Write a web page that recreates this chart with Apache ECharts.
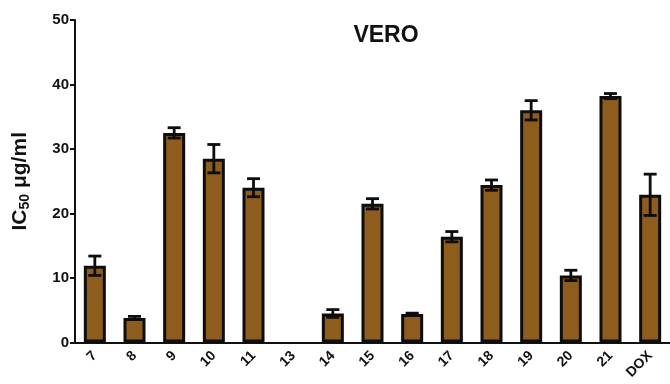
<!DOCTYPE html>
<html>
<head>
<meta charset="utf-8">
<script src="https://cdn.jsdelivr.net/npm/echarts@6/dist/echarts.min.js"></script>
<style>
  html, body { margin: 0; padding: 0; background: #fff; }
  #chart { width: 670px; height: 384px; }
</style>
</head>
<body>
<div id="chart"></div>
<script>
// IC50 values (µg/ml) on VERO cells, mean and error per compound
const compounds = ['7', '8', '9', '10', '11', '13', '14', '15', '16', '17', '18', '19', '20', '21', 'DOX'];
const ic50 = [11.9, 3.8, 32.5, 28.5, 24.0, 0, 4.5, 21.5, 4.4, 16.4, 24.4, 36.0, 10.4, 38.2, 22.9];
const errors = [1.5, 0.25, 0.8, 2.2, 1.4, 0, 0.6, 0.8, 0.15, 0.8, 0.8, 1.5, 0.8, 0.4, 3.2];
const yTicks = [0, 10, 20, 30, 40, 50];

const chart = echarts.init(document.getElementById('chart'));
const fontFamily = '"Liberation Sans", Arial, sans-serif';

// zero-height bars get no outline so nothing is drawn on the baseline
const barData = ic50.map(v => ({
  value: v,
  itemStyle: v === 0 ? { borderWidth: 0 } : undefined
}));

chart.setOption({
  animation: false,
  title: {
    text: 'VERO',
    left: 381,
    top: 19,
    textAlign: 'center',
    textStyle: { fontFamily, fontSize: 23, fontWeight: 'bold', color: '#111' }
  },
  grid: { left: 75, right: 0, top: 20, bottom: 41.5 },
  xAxis: {
    type: 'category',
    data: compounds,
    axisLine: { lineStyle: { color: '#111', width: 2 } },
    axisTick: { alignWithLabel: true, length: 5, lineStyle: { color: '#111', width: 2 } },
    axisLabel: {
      rotate: 45,
      interval: 0,
      margin: 11,
      fontFamily, fontSize: 14, fontWeight: 'bold', color: '#111'
    }
  },
  yAxis: {
    type: 'value',
    min: yTicks[0],
    max: yTicks[yTicks.length - 1],
    interval: 10,
    splitLine: { show: false },
    axisLine: { show: true, lineStyle: { color: '#111', width: 2 } },
    axisTick: { show: true, length: 5, lineStyle: { color: '#111', width: 2 } },
    axisLabel: { margin: 6, fontFamily, fontSize: 15, fontWeight: 'bold', color: '#111' },
    name: '{a|IC}{b|50}{a| μg/ml}',
    nameLocation: 'middle',
    nameGap: 43,
    nameRotate: 90,
    nameTextStyle: {
      rich: {
        a: { fontFamily, fontSize: 21, fontWeight: 'bold', color: '#111' },
        b: { fontFamily, fontSize: 14, fontWeight: 'bold', color: '#111', verticalAlign: 'bottom', padding: [9, 0, 0, 0] }
      }
    }
  },
  series: [
    {
      type: 'bar',
      data: barData,
      barWidth: 22,
      itemStyle: { color: '#8E5C1D', borderColor: '#0d0d0d', borderWidth: 3 },
      z: 2
    },
    {
      type: 'custom',
      data: ic50.map((v, i) => [i, v, errors[i]]),
      z: 3,
      renderItem: function (params, api) {
        const mean = api.value(1);
        const err = api.value(2);
        if (!err) return null;
        const i = api.value(0);
        const hi = api.coord([i, mean + err]);
        const lo = api.coord([i, mean - err]);
        const half = 6.5;
        const style = { stroke: '#0d0d0d', lineWidth: 2.8 };
        return {
          type: 'group',
          children: [
            { type: 'line', shape: { x1: hi[0], y1: hi[1], x2: lo[0], y2: lo[1] }, style },
            { type: 'line', shape: { x1: hi[0] - half, y1: hi[1], x2: hi[0] + half, y2: hi[1] }, style },
            { type: 'line', shape: { x1: lo[0] - half, y1: lo[1], x2: lo[0] + half, y2: lo[1] }, style }
          ]
        };
      }
    }
  ]
});
</script>
</body>
</html>
